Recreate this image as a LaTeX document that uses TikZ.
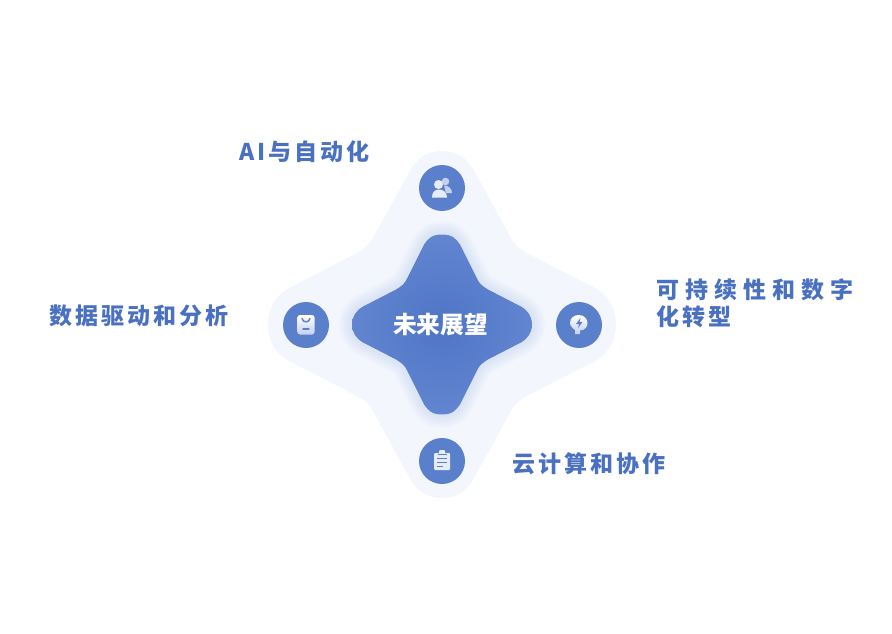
\documentclass[tikz,border=0pt]{standalone}
\usepackage{fontspec}
\setmainfont{Noto Sans CJK SC}
\usetikzlibrary{positioning}
\definecolor{haloBlue}{HTML}{F3F7FD}
\definecolor{glowBlue}{HTML}{7F9CDC}
\definecolor{hubEdge}{HTML}{6285CF}
\definecolor{hubCore}{HTML}{4E75C6}
\definecolor{discBlue}{HTML}{5A80CC}
\definecolor{tagBlue}{HTML}{4A70C2}
\definecolor{iconPale}{HTML}{E6EDF9}
\definecolor{iconShade}{HTML}{C3D1EE}
\newcommand{\haloStar}{(0,-173.5) .. controls (16,-173.5) and (25,-166) .. (32,-154) -- (70,-85)
  .. controls (74,-78) and (80,-74) .. (88,-70) -- (154,-36) .. controls (168,-28) and (174,-14) .. (174,0)
  .. controls (174,14) and (168,28) .. (154,36) -- (88,70) .. controls (80,74) and (74,78) .. (70,85)
  -- (32,154) .. controls (25,166) and (16,173.5) .. (0,173.5) .. controls (-16,173.5) and (-25,166) .. (-32,154)
  -- (-70,85) .. controls (-74,78) and (-80,74) .. (-88,70) -- (-154,36) .. controls (-168,28) and (-174,14) .. (-174,0)
  .. controls (-174,-14) and (-168,-28) .. (-154,-36) -- (-88,-70) .. controls (-80,-74) and (-74,-78) .. (-70,-85)
  -- (-32,-154) .. controls (-25,-166) and (-16,-173.5) .. (0,-173.5) -- cycle}
\newcommand{\hubStar}{(0,-90) .. controls (10,-90) and (14,-86) .. (18,-80) -- (35,-46)
  .. controls (37,-41) and (41,-38) .. (46,-35) -- (79,-18) .. controls (86,-14) and (90,-8) .. (90,0)
  .. controls (90,8) and (86,14) .. (79,18) -- (46,35) .. controls (41,38) and (37,41) .. (35,46)
  -- (18,80) .. controls (14,86) and (10,90) .. (0,90) .. controls (-10,90) and (-14,86) .. (-18,80)
  -- (-35,46) .. controls (-37,41) and (-41,38) .. (-46,35) -- (-79,18) .. controls (-86,14) and (-90,8) .. (-90,0)
  .. controls (-90,-8) and (-86,-14) .. (-79,-18) -- (-46,-35) .. controls (-41,-38) and (-37,-41) .. (-35,-46)
  -- (-18,-80) .. controls (-14,-86) and (-10,-90) .. (0,-90) -- cycle}

\begin{document}
\begin{tikzpicture}[x=1pt, y=-1pt,
    disc/.style={circle, fill=discBlue, minimum size=46pt, inner sep=0pt},
    tagText/.style={inner sep=0pt, text=tagBlue, align=left, font=\fontsize{23}{27}\selectfont\bfseries\addfontfeature{LetterSpace=13}},
    hubText/.style={inner sep=0pt, text=white, font=\fontsize{23.7}{27}\selectfont\bfseries},
    iconFill/.style={fill=iconPale, draw=none},
    iconMark/.style={draw=discBlue, line width=1.4pt, line cap=round}]
  \useasboundingbox (0,0) rectangle (892,634);
  \begin{scope}[shift={(442,324.5)}]
    \fill[haloBlue] \haloStar;
    % soft glow round the centre
    \foreach \w in {3,6,...,27} {
      \draw[glowBlue, opacity=0.025, line width=\w pt, line join=round] \hubStar;
    }
    \draw[iconPale, line width=1pt] \hubStar;
    \shade[inner color=hubCore, outer color=hubEdge] \hubStar;
  \end{scope}
  \coordinate (core) at (442,325);
  \node[hubText, xshift=-1.5pt] (hub) at (core) {未来展望};
  \node[disc, above=137pt of core, anchor=center] (discTop) {};
  \node[disc, below=136pt of core, anchor=center] (discBottom) {};
  \node[disc, left=136pt of core, anchor=center] (discLeft) {};
  \node[disc, right=137pt of core, anchor=center] (discRight) {};
  \node[tagText, left=49pt of discTop.west, yshift=36pt] (tagTop) {AI与自动化};
  \node[tagText, left=54pt of discLeft.west, yshift=9pt] (tagLeft) {数据驱动和分析};
  \node[tagText, right=54pt of discRight.east, yshift=22pt] (tagRight) {{\addfontfeature{LetterSpace=26.5}可持续性和数字}\\化转型};
  \node[tagText, right=47pt of discBottom.east, yshift=-3pt] (tagBottom) {云计算和协作};
  % people
  \begin{scope}[shift={(discTop.center)}]
    \fill[iconShade] (3.5,-6.5) circle (3.8);
    \fill[iconShade] (2,-2.5) .. controls (7,-2.5) and (10,1) .. (10,5) -- (4,5) -- cycle;
    \fill[iconFill] (-3.5,-3.5) circle (4.5);
    \fill[iconFill] (-10,9.5) .. controls (-10,4) and (-7,1.5) .. (-3,1.5) .. controls (1,1.5) and (5,4) .. (5,9.5) -- cycle;
  \end{scope}
  % badge
  \begin{scope}[shift={(discLeft.center)}]
    \shade[top color=white, bottom color=iconShade, rounded corners=2.5pt] (-8.5,-10) rectangle (8.5,9.5);
    \draw[iconMark] (-4,-6.5) .. controls (-3,-2) and (3,-2) .. (4,-6.5);
    \draw[iconMark] (-3,4) -- (3,4);
  \end{scope}
  % head with bolt
  \begin{scope}[shift={(discRight.center)}]
    \shade[top color=white, bottom color=iconShade] (1,9) -- (-4,9) -- (-4,5)
      .. controls (-7,3) and (-9,0) .. (-9,-2) .. controls (-9,-8) and (-4,-10) .. (0,-10)
      .. controls (5,-10) and (8.5,-6) .. (8.5,-2) .. controls (8.5,3) and (5,4) .. (4,5) -- (1,5) -- cycle;
    \fill[discBlue] (1.5,-7) -- (-3,-1) -- (0,-1) -- (-1,3) -- (3.5,-3) -- (0.5,-3) -- cycle;
  \end{scope}
  % clipboard
  \begin{scope}[shift={(discBottom.center)}]
    \fill[iconFill, rounded corners=1pt] (-8,-8) rectangle (8,9);
    \fill[iconFill, rounded corners=1pt] (-3,-11) rectangle (3,-7);
    \draw[discBlue, line width=0.8pt] (-4.5,-7) -- (4.5,-7);
    \draw[iconMark, line width=1pt, line cap=butt] (-5,-3) -- (5,-3) (-5,1) -- (5,1) (-5,5) -- (1,5);
  \end{scope}
\end{tikzpicture}
\end{document}
